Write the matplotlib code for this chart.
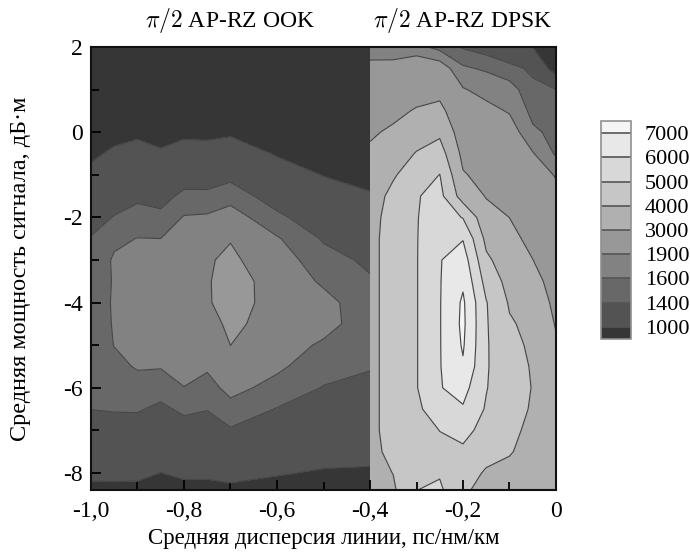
import numpy as np
import matplotlib
matplotlib.use("Agg")
import matplotlib.pyplot as plt
from matplotlib.colors import ListedColormap, BoundaryNorm
from matplotlib.ticker import MultipleLocator

plt.rcParams['font.family'] = ['Liberation Serif', 'DejaVu Serif']
plt.rcParams['mathtext.fontset'] = 'cm'

# ---------------- data ----------------
levels = [1000, 1400, 1600, 1900, 3000, 4000, 5000, 6000, 7000]
level_labels = ["1000", "1400", "1600", "1900", "3000", "4000", "5000", "6000", "7000"]
gray_colors = ['#363636', '#535353', '#686868', '#828282', '#989898',
               '#b0b0b0', '#c6c6c6', '#d8d8d8', '#e8e8e8', '#f4f4f4']

power_db = [2, 1.5, 1, 0.5, 0, -0.5, -1, -1.5, -2, -2.5, -3, -3.5, -4, -4.5,
            -5, -5.5, -6, -6.5, -7, -7.5, -8, -8.5]

# pi/2 AP-RZ OOK
ook_disp = [-1.0, -0.95, -0.9, -0.85, -0.8, -0.75, -0.7, -0.6, -0.5, -0.4]
ook_cols = [
    [600, 650, 700, 770, 850, 951, 1064, 1186, 1309, 1414, 1466, 1490, 1500, 1495, 1480, 1460, 1436, 1403, 1289, 1167, 1047, 922],
    [520, 600, 680, 780, 918, 1042, 1165, 1289, 1412, 1560, 1625, 1615, 1620, 1615, 1605, 1550, 1483, 1416, 1304, 1177, 1051, 925],
    [540, 620, 720, 830, 954, 1088, 1222, 1356, 1485, 1605, 1670, 1735, 1800, 1739, 1678, 1617, 1525, 1421, 1299, 1173, 1047, 922],
    [520, 600, 700, 800, 893, 1034, 1175, 1316, 1457, 1601, 1677, 1753, 1830, 1758, 1686, 1614, 1487, 1355, 1236, 1117, 997, 880],
    [560, 650, 760, 870, 942, 1112, 1281, 1454, 1615, 1697, 1778, 1860, 1808, 1756, 1703, 1651, 1597, 1443, 1305, 1172, 1040, 909],
    [560, 650, 760, 870, 934, 1107, 1279, 1454, 1629, 1792, 1870, 1875, 1870, 1790, 1710, 1629, 1525, 1409, 1286, 1162, 1038, 910],
    [580, 680, 790, 900, 959, 1147, 1336, 1520, 1702, 1885, 1957, 2019, 2020, 1961, 1901, 1783, 1664, 1530, 1378, 1224, 1070, 919],
    [520, 580, 640, 720, 820, 975, 1130, 1285, 1451, 1622, 1715, 1785, 1790, 1785, 1715, 1639, 1531, 1390, 1266, 1142, 1017, 893],
    [480, 540, 610, 690, 790, 895, 990, 1118, 1248, 1379, 1474, 1561, 1680, 1685, 1565, 1478, 1390, 1288, 1186, 1084, 978, 853],
    [450, 500, 570, 650, 740, 830, 920, 1023, 1136, 1249, 1362, 1421, 1451, 1468, 1436, 1412, 1355, 1260, 1165, 1070, 968, 843],
]

# pi/2 AP-RZ DPSK
dpsk_disp = [-0.4, -0.35, -0.3, -0.25, -0.2, -0.15, -0.1, -0.05, 0.0]
dpsk_cols = [
    [1750, 1995, 2290, 2586, 2882, 3150, 3400, 3550, 3650, 3700, 3700, 3700, 3700, 3700, 3700, 3700, 3700, 3700, 3700, 3680, 3600, 3500],
    [1780, 1980, 2425, 2780, 3144, 3523, 3902, 4250, 4400, 4450, 4450, 4450, 4450, 4450, 4450, 4450, 4450, 4450, 4450, 4300, 4020, 3800],
    [1700, 2184, 2627, 3078, 3569, 4053, 4500, 4940, 4950, 4950, 4950, 4950, 4950, 4950, 4950, 4950, 4950, 4800, 4650, 4600, 4750, 5050],
    [1500, 2110, 2696, 3267, 3822, 4420, 5016, 5278, 5540, 5800, 5950, 5950, 5950, 5950, 5950, 5950, 5950, 5567, 5011, 4800, 4900, 5250],
    [1380, 1635, 1928, 2206, 2483, 2761, 3073, 3550, 4950, 5950, 6500, 6850, 7150, 7200, 7100, 6900, 6350, 5900, 5350, 4800, 4400, 4100],
    [1300, 1564, 1783, 2009, 2245, 2481, 2717, 2953, 3333, 3750, 4182, 4636, 5050, 5080, 5100, 5100, 5050, 4900, 4600, 4300, 3900, 3650],
    [1200, 1463, 1697, 1869, 2086, 2314, 2541, 2768, 2995, 3223, 3450, 3677, 3905, 4100, 4200, 4250, 4250, 4200, 4120, 4040, 3850, 3750],
    [990, 1360, 1450, 1520, 1650, 1922, 2137, 2353, 2569, 2784, 3010, 3300, 3550, 3750, 3880, 3950, 3980, 3950, 3880, 3800, 3700, 3600],
    [750, 800, 1406, 1467, 1527, 1560, 1867, 2036, 2186, 2337, 2488, 2638, 2789, 2940, 3100, 3250, 3350, 3400, 3400, 3350, 3300, 3250],
]

titles = [r"$\pi/2$ AP-RZ OOK", r"$\pi/2$ AP-RZ DPSK"]
title_x = [-0.7, -0.2]
xticks = [-1.0, -0.8, -0.6, -0.4, -0.2, 0.0]
xtick_labels = ["-1,0", "-0,8", "-0,6", "-0,4", "-0,2", "0"]
yticks = [2, 0, -2, -4, -6, -8]
ytick_labels = ["2", "0", "-2", "-4", "-6", "-8"]
xlabel = "Средняя дисперсия линии, пс/нм/км"
ylabel = "Средняя мощность сигнала, дБ·м"

# ---------------- plot ----------------
fig = plt.figure(figsize=(6.9, 5.58), dpi=100)
ax = fig.add_axes([91 / 690, 1 - 490 / 558, 465 / 690, 443 / 558])

cmap = ListedColormap(gray_colors[1:-1])
cmap.set_under(gray_colors[0])
cmap.set_over(gray_colors[-1])
norm = BoundaryNorm(levels, cmap.N)

line_color = '#474747'
cs = None
for xs, cols in ((ook_disp, ook_cols), (dpsk_disp, dpsk_cols)):
    X, Y = np.meshgrid(np.array(xs), np.array(power_db))
    Z = np.array(cols, dtype=float).T
    cs = ax.contourf(X, Y, Z, levels=levels, cmap=cmap, norm=norm, extend='both')
    ax.contour(X, Y, Z, levels=levels, colors=line_color, linewidths=0.85)

ax.set_xlim(-1.0, 0.0)
ax.set_ylim(-8.4, 2.0)
ax.set_xticks(xticks)
ax.set_xticklabels(xtick_labels)
ax.set_yticks(yticks)
ax.set_yticklabels(ytick_labels)
ax.xaxis.set_minor_locator(MultipleLocator(0.1))
ax.yaxis.set_minor_locator(MultipleLocator(1))
ax.tick_params(which='both', direction='in', top=False, right=False,
               width=1.3, labelsize=17)
ax.tick_params(which='major', length=7)
ax.tick_params(which='minor', length=6)
ax.tick_params(axis='x', pad=8)
ax.tick_params(axis='y', pad=6)
for sp in ax.spines.values():
    sp.set_linewidth(1.5)
    sp.set_color('#111111')

ax.set_xlabel(xlabel, fontsize=16.5)
ax.set_ylabel(ylabel, fontsize=17.5)
ax.xaxis.set_label_coords(0.5, -0.085)
ax.yaxis.set_label_coords(-0.128, 0.5)

tr = ax.get_xaxis_transform()
for t, xc in zip(titles, title_x):
    ax.text(xc, 1.045, t, transform=tr, ha='center', va='baseline', fontsize=17)

cax = fig.add_axes([601 / 690, 1 - 339 / 558, 30 / 690, 218 / 558])
cb = fig.colorbar(cs, cax=cax, extend='both', extendrect=True, extendfrac=0.0625,
                  drawedges=True, ticks=levels, spacing='uniform')
cb.set_ticklabels(level_labels)
cb.ax.tick_params(length=0, labelsize=16, pad=10)
cb.outline.set_edgecolor('#909090')
cb.outline.set_linewidth(1.2)
cb.dividers.set_color('#555555')
cb.dividers.set_linewidth(1.2)

fig.savefig("out.png", dpi=100)
